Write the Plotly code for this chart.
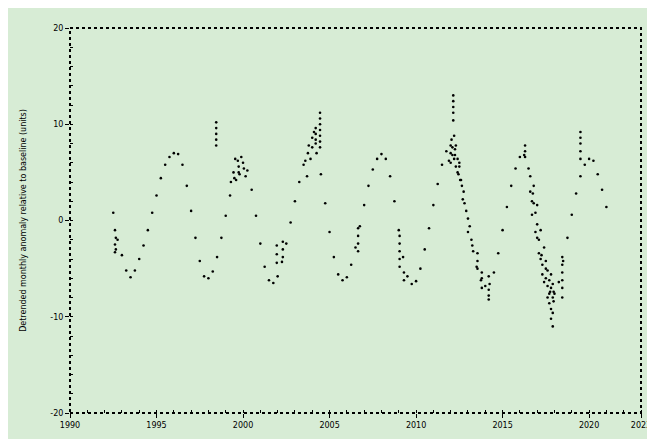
import plotly.graph_objects as go

# Main periodic series (decimal year, value)
curve_years = [1992.50, 1992.75, 1993.00, 1993.25, 1993.50, 1993.75, 1994.00, 1994.25, 1994.50, 1994.75,
               1995.00, 1995.25, 1995.50, 1995.75, 1996.00, 1996.25, 1996.50, 1996.75, 1997.00, 1997.25,
               1997.50, 1997.75, 1998.00, 1998.25, 1998.50, 1998.75, 1999.00, 1999.25, 1999.50, 1999.75,
               2000.00, 2000.25, 2000.50, 2000.75, 2001.00, 2001.25, 2001.50, 2001.75, 2002.00, 2002.25,
               2002.50, 2002.75, 2003.00, 2003.25, 2003.50, 2003.75, 2004.00, 2004.25, 2004.50, 2004.75,
               2005.00, 2005.25, 2005.50, 2005.75, 2006.00, 2006.25, 2006.50, 2006.75, 2007.00, 2007.25,
               2007.50, 2007.75, 2008.00, 2008.25, 2008.50, 2008.75, 2009.00, 2009.25, 2009.50, 2009.75,
               2010.00, 2010.25, 2010.50, 2010.75, 2011.00, 2011.25, 2011.50, 2011.75, 2012.00, 2012.25,
               2012.50, 2012.75, 2013.00, 2013.25, 2013.50, 2013.75, 2014.00, 2014.25, 2014.50, 2014.75,
               2015.00, 2015.25, 2015.50, 2015.75, 2016.00, 2016.25, 2016.50, 2016.75, 2017.00, 2017.25,
               2017.50, 2017.75, 2018.00, 2018.25, 2018.50, 2018.75, 2019.00, 2019.25, 2019.50, 2019.75,
               2020.00, 2020.25, 2020.50, 2020.75, 2021.00]
curve_values = [0.8, -2.0, -3.6, -5.2, -5.9, -5.2, -4.0, -2.6, -1.0, 0.8,
                2.6, 4.4, 5.8, 6.6, 7.0, 6.9, 5.8, 3.6, 1.0, -1.8,
                -4.2, -5.8, -6.0, -5.3, -3.8, -1.8, 0.5, 2.6, 4.4, 5.6,
                6.0, 5.2, 3.2, 0.5, -2.4, -4.8, -6.2, -6.5, -5.8, -4.3,
                -2.4, -0.2, 2.0, 4.0, 5.8, 7.0, 7.6, 7.0, 4.8, 1.8,
                -1.2, -3.8, -5.6, -6.2, -5.9, -4.6, -2.8, -0.6, 1.6, 3.6,
                5.3, 6.4, 6.9, 6.4, 4.6, 2.0, -1.0, -3.8, -5.8, -6.6,
                -6.3, -5.0, -3.0, -0.8, 1.6, 3.8, 5.8, 7.2, 7.8, 7.4,
                5.6, 3.0, 0.2, -2.6, -4.8, -6.2, -6.8, -6.6, -5.4, -3.4,
                -1.0, 1.4, 3.6, 5.4, 6.6, 6.8, 5.4, 2.8, -0.4, -3.6,
                -6.0, -7.4, -7.6, -6.4, -4.2, -1.8, 0.6, 2.8, 4.6, 5.8,
                6.4, 6.2, 4.8, 3.2, 1.4]

# Additional scattered measurements (bursts of dense observations)
extra_years = [1992.6, 1992.6, 1992.6, 1992.65, 1992.65,
               1998.45, 1998.45, 1998.45, 1998.45, 1998.45,
               1999.3, 1999.45, 1999.6, 1999.7, 1999.8, 1999.9, 2000.05, 2000.15, 1999.55, 1999.75,
               2001.95, 2001.95, 2001.95, 2002.3, 2002.3, 2002.3,
               2003.6, 2003.8, 2003.9, 2004.0, 2004.1, 2004.2, 2003.7,
               2004.45, 2004.45, 2004.45, 2004.45, 2004.45, 2004.45, 2004.45,
               2004.2, 2004.2, 2004.2,
               2006.65, 2006.65, 2006.65, 2006.65,
               2009.05, 2009.05, 2009.05, 2009.05, 2009.05, 2009.3, 2009.3,
               2012.15, 2012.15, 2012.15, 2012.15, 2012.15,
               2011.9, 2012.0, 2012.05, 2012.1, 2012.2, 2012.25, 2012.3, 2012.4, 2012.45, 2012.5, 2012.6, 2012.7,
               2012.0, 2012.1, 2012.2, 2012.3, 2012.4, 2012.55, 2012.65, 2012.8, 2012.9,
               2013.0, 2013.1, 2013.2, 2013.3,
               2013.55, 2013.55, 2013.55, 2013.8, 2013.8, 2013.8, 2014.2, 2014.2, 2014.2, 2014.2,
               2016.3, 2016.3, 2016.3,
               2016.6, 2016.7, 2016.8, 2016.9, 2017.0, 2017.1, 2017.2, 2017.3, 2017.4, 2017.5,
               2016.6, 2016.7, 2016.8, 2016.9, 2017.0, 2017.1, 2017.2, 2017.3, 2017.4, 2017.5,
               2017.6, 2017.6, 2017.6, 2017.7, 2017.7, 2017.7, 2017.8, 2017.8, 2017.8, 2017.8,
               2017.9, 2017.9, 2017.9, 2017.9, 2017.95, 2017.95,
               2018.45, 2018.45, 2018.45, 2018.45, 2018.45, 2018.45,
               2019.5, 2019.5, 2019.5, 2019.5, 2019.5]
extra_values = [-1.0, -2.5, -3.3, -1.8, -3.0,
                10.2, 9.6, 9.0, 8.4, 7.8,
                4.0, 5.0, 4.2, 6.2, 4.8, 6.6, 5.4, 4.6, 6.4, 5.0,
                -2.6, -3.5, -4.4, -2.2, -3.0, -3.8,
                6.2, 7.8, 6.4, 8.6, 9.2, 8.0, 4.6,
                11.2, 10.6, 10.0, 9.4, 8.8, 8.2, 7.6,
                9.6, 9.0, 8.4,
                -0.8, -1.6, -2.4, -3.2,
                -1.6, -2.4, -3.2, -4.0, -4.8, -5.4, -6.2,
                13.0, 12.4, 11.8, 11.2, 10.4,
                6.2, 7.0, 8.4, 7.6, 8.8, 6.8, 7.8, 6.4, 4.8, 6.0, 4.2, 2.2,
                6.0, 6.8, 6.4, 5.6, 5.0, 4.2, 3.6, 1.8, 1.0,
                -1.2, -0.6, -2.0, -3.2,
                -3.4, -4.2, -5.0, -5.4, -6.0, -7.0, -7.2, -7.8, -8.2, -5.8,
                7.8, 7.2, 6.6,
                4.6, 2.0, 3.6, 0.8, 1.6, -2.0, -1.0, -4.6, -2.8, -5.0,
                3.0, 0.6, 1.8, -1.2, -1.8, -3.4, -4.0, -5.6, -6.4, -4.2,
                -5.2, -6.8, -8.0, -6.2, -7.6, -8.6, -5.6, -7.0, -9.2, -10.2,
                -6.6, -8.0, -9.6, -11.0, -7.4, -8.4,
                -3.8, -4.6, -5.4, -6.2, -7.0, -8.0,
                9.2, 8.6, 8.0, 7.2, 6.4]

x_tickvals = [1990, 1995, 2000, 2005, 2010, 2015, 2020, 2023]
x_ticktext = ["1990", "1995", "2000", "2005", "2010", "2015", "2020", "2023"]
y_tickvals = [-20, -10, 0, 10, 20]
y_ticktext = ["-20", "-10", "0", "10", "20"]

bg = "#d7ecd5"
fig = go.Figure()
fig.add_trace(go.Scatter(x=curve_years + extra_years, y=curve_values + extra_values,
                         mode="markers",
                         marker=dict(color="black", size=2.6, symbol="circle"),
                         showlegend=False, hoverinfo="skip"))

fig.update_layout(
    width=655, height=439,
    margin=dict(l=62, r=15, t=20, b=34),
    paper_bgcolor=bg, plot_bgcolor=bg,
    font=dict(family="DejaVu Sans", size=8, color="black"),
    shapes=[dict(type="rect", xref="paper", yref="paper", x0=0, y0=0, x1=1, y1=1,
                 line=dict(color="black", width=2, dash="dot"))],
)
fig.update_xaxes(range=[1990, 2023], tickvals=x_tickvals, ticktext=x_ticktext,
                 showgrid=False, zeroline=False, ticks="outside", ticklen=4,
                 ticklabeloverflow="allow",
                 tickcolor="black", minor=dict(ticks="inside", dtick=1, ticklen=3, tickcolor="black"))
fig.update_yaxes(range=[-20, 20], tickvals=y_tickvals, ticktext=y_ticktext,
                 showgrid=False, zeroline=False, ticks="outside", ticklen=4,
                 tickcolor="black", minor=dict(ticks="inside", dtick=2, ticklen=3, tickcolor="black"),
                 title=dict(text="Detrended monthly anomaly relative to baseline (units)",
                            font=dict(size=8), standoff=22))

fig.write_html("out.html")
